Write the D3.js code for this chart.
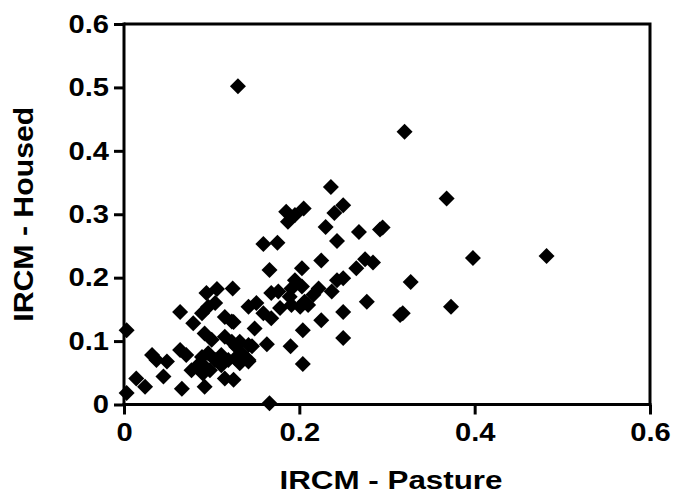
<!DOCTYPE html>
<html>
<head>
<meta charset="utf-8">
<script src="https://cdn.jsdelivr.net/npm/d3@7"></script>
<style>
  html, body { margin: 0; padding: 0; background: #fff; }
  svg { display: block; }
  text { font-family: "Liberation Sans", Arial, sans-serif; font-weight: bold; fill: #000; }
</style>
</head>
<body>
<svg id="chart" width="675" height="494"></svg>
<script>
// IRCM - Pasture (x) values
const pastureX = [
  0.003, 0.003, 0.014, 0.024, 0.032, 0.037, 0.049, 0.045, 0.064, 0.066,
  0.064, 0.071, 0.079, 0.089, 0.096, 0.104, 0.094, 0.106, 0.124, 0.092,
  0.100, 0.115, 0.123, 0.115, 0.123, 0.132, 0.142, 0.089, 0.096, 0.104,
  0.083, 0.077, 0.092, 0.098, 0.111, 0.119, 0.127, 0.132, 0.142, 0.111,
  0.115, 0.125, 0.092, 0.130, 0.142, 0.151, 0.149, 0.125, 0.159, 0.175,
  0.166, 0.168, 0.176, 0.159, 0.168, 0.178, 0.191, 0.201, 0.210, 0.163,
  0.190, 0.146, 0.128, 0.134, 0.142, 0.204, 0.166, 0.185, 0.195, 0.205,
  0.187, 0.236, 0.240, 0.250, 0.230, 0.268, 0.295, 0.292, 0.243, 0.225,
  0.203, 0.265, 0.275, 0.284, 0.195, 0.191, 0.203, 0.222, 0.216, 0.237,
  0.243, 0.250, 0.277, 0.318, 0.315, 0.250, 0.225, 0.204, 0.250, 0.320,
  0.368, 0.398, 0.482, 0.373, 0.327, 0.206, 0.189, 0.087, 0.090
];
// IRCM - Housed (y) values
const housedY = [
  0.117, 0.018, 0.041, 0.028, 0.078, 0.070, 0.068, 0.044, 0.146, 0.025,
  0.086, 0.078, 0.128, 0.144, 0.154, 0.160, 0.176, 0.182, 0.183, 0.112,
  0.102, 0.138, 0.131, 0.107, 0.099, 0.099, 0.094, 0.075, 0.081, 0.070,
  0.060, 0.054, 0.060, 0.054, 0.078, 0.070, 0.073, 0.065, 0.070, 0.062,
  0.041, 0.039, 0.028, 0.502, 0.154, 0.160, 0.120, 0.130, 0.253, 0.255,
  0.212, 0.176, 0.178, 0.144, 0.136, 0.152, 0.157, 0.154, 0.157, 0.095,
  0.092, 0.092, 0.091, 0.081, 0.068, 0.064, 0.002, 0.304, 0.299, 0.309,
  0.288, 0.343, 0.302, 0.314, 0.280, 0.272, 0.279, 0.276, 0.258, 0.227,
  0.215, 0.215, 0.229, 0.224, 0.196, 0.183, 0.186, 0.183, 0.173, 0.178,
  0.196, 0.199, 0.162, 0.144, 0.141, 0.146, 0.133, 0.117, 0.105, 0.430,
  0.325, 0.231, 0.234, 0.154, 0.193, 0.162, 0.170, 0.065, 0.049
];
const xTicks = [0, 0.2, 0.4, 0.6];
const yTicks = [0, 0.1, 0.2, 0.3, 0.4, 0.5, 0.6];
const xTitle = "IRCM - Pasture";
const yTitle = "IRCM - Housed";

const svg = d3.select("#chart");
const mL = 124, mR = 650, mT = 24, mB = 404.5;

const x = d3.scaleLinear().domain([0, 0.6]).range([mL, mR]);
const y = d3.scaleLinear().domain([0, 0.6]).range([mB, mT]);

const fmt = d => d === 0 ? "0" : d3.format(".1f")(d);

// frame (top and right lines)
svg.append("path")
  .attr("d", `M${mL},${mT}H${mR}V${mB}`)
  .attr("fill", "none").attr("stroke", "#000").attr("stroke-width", 3);

const yAxis = svg.append("g")
  .attr("transform", `translate(${mL},0)`)
  .call(d3.axisLeft(y).tickValues(yTicks).tickFormat(fmt).tickSize(10).tickSizeOuter(0).tickPadding(5));
const xAxis = svg.append("g")
  .attr("transform", `translate(0,${mB})`)
  .call(d3.axisBottom(x).tickValues(xTicks).tickFormat(fmt).tickSize(10).tickSizeOuter(0).tickPadding(8));

[yAxis, xAxis].forEach(g => {
  g.select(".domain").attr("stroke", "#000").attr("stroke-width", 3);
  g.selectAll(".tick line").attr("stroke", "#000").attr("stroke-width", 3);
  g.selectAll(".tick text")
    .attr("fill", "#000")
    .style("font-family", "'Liberation Sans', Arial, sans-serif")
    .style("font-weight", "bold")
    .style("font-size", "26px")
    .each(function() {
      const w = this.getComputedTextLength();
      d3.select(this).attr("textLength", w * 1.12).attr("lengthAdjust", "spacingAndGlyphs");
    });
});
yAxis.select(".domain").attr("d", `M0,${mT - 1.5}V${mB + 1.5}`);
xAxis.select(".domain").attr("d", `M${mL - 1.5},0H${mR + 1.5}`);

// titles
svg.append("text")
  .attr("x", (mL + mR) / 2 + 4).attr("y", 489)
  .attr("text-anchor", "middle")
  .style("font-size", "26px")
  .attr("textLength", 223).attr("lengthAdjust", "spacingAndGlyphs")
  .text(xTitle);
svg.append("text")
  .attr("transform", `translate(33,${(mT + mB) / 2}) rotate(-90)`)
  .attr("text-anchor", "middle")
  .style("font-size", "27px")
  .attr("textLength", 215).attr("lengthAdjust", "spacingAndGlyphs")
  .text(yTitle);

// points
const pts = pastureX.map((v, i) => ({ px: v, hy: housedY[i] }));
const sym = d3.symbol().type(d3.symbolSquare).size(128);
svg.append("g").selectAll("path")
  .data(pts)
  .join("path")
  .attr("d", sym)
  .attr("transform", d => `translate(${x(d.px)},${y(d.hy)}) rotate(45)`)
  .attr("fill", "#000");
</script>
</body>
</html>
